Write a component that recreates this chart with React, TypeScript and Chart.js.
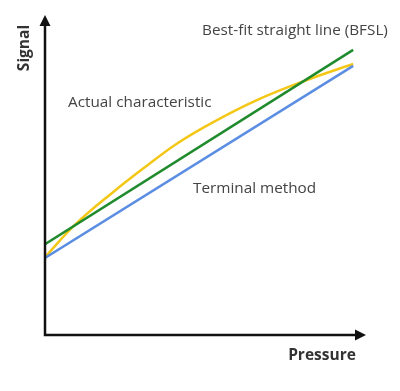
import React, { useEffect, useRef } from "react";
import { Chart, registerables } from "chart.js";

Chart.register(...registerables);

// Pressure positions (0..100) and signal values (0..100)
const lineX = [0, 96];
const bfslY = [28.4, 89.1];
const terminalY = [24.1, 84.1];
const actualX = [0, 9.3, 20.9, 31.2, 41.4, 52, 66, 81.6, 96];
const actualY = [24.3, 34.4, 44.4, 52.5, 60, 66.3, 73.4, 79.7, 84.7];

const xTitle = "Pressure";
const yTitle = "Signal";
const labelBFSL = "Best-fit straight line (BFSL)";
const labelActual = "Actual characteristic";
const labelTerminal = "Terminal method";

const toPts = (xs: number[], ys: number[]) => xs.map((x, i) => ({ x, y: ys[i] }));

const decor = {
  id: "decor",
  afterDraw(chart: any) {
    const ctx = chart.ctx;
    const xs = chart.scales.x;
    const ys = chart.scales.y;
    const x0 = xs.getPixelForValue(0);
    const y0 = ys.getPixelForValue(0);
    const xEnd = xs.getPixelForValue(100);
    const yEnd = ys.getPixelForValue(100);
    ctx.save();
    ctx.strokeStyle = "#111";
    ctx.fillStyle = "#111";
    ctx.lineWidth = 2.5;
    ctx.beginPath();
    ctx.moveTo(x0, yEnd + 8);
    ctx.lineTo(x0, y0);
    ctx.lineTo(xEnd - 8, y0);
    ctx.stroke();
    // arrowheads
    ctx.beginPath();
    ctx.moveTo(x0, yEnd);
    ctx.lineTo(x0 - 5.5, yEnd + 11);
    ctx.lineTo(x0 + 5.5, yEnd + 11);
    ctx.closePath();
    ctx.fill();
    ctx.beginPath();
    ctx.moveTo(xEnd, y0);
    ctx.lineTo(xEnd - 11, y0 - 5.5);
    ctx.lineTo(xEnd - 11, y0 + 5.5);
    ctx.closePath();
    ctx.fill();

    ctx.fillStyle = "#333";
    ctx.textBaseline = "middle";
    ctx.font = "bold 15.5px 'Open Sans'";
    ctx.textAlign = "center";
    ctx.fillText(xTitle, 322, 356);
    ctx.save();
    ctx.translate(25, 48);
    ctx.rotate(-Math.PI / 2);
    ctx.fillText(yTitle, 0, 0);
    ctx.restore();

    ctx.fillStyle = "#444";
    ctx.font = "15.3px 'Open Sans'";
    ctx.textAlign = "left";
    ctx.fillText(labelBFSL, 202, 31);
    ctx.fillText(labelActual, 68, 103);
    ctx.fillText(labelTerminal, 193, 189);
    ctx.restore();
  },
};

export default function App() {
  const ref = useRef<HTMLCanvasElement>(null);
  useEffect(() => {
    document.body.style.margin = "0";
    const chart = new Chart(ref.current!, {
      type: "scatter",
      data: {
        datasets: [
          {
            data: toPts(lineX, terminalY),
            showLine: true,
            borderColor: "#5B8EE3",
            borderWidth: 2.5,
            pointRadius: 0,
          },
          {
            data: toPts(lineX, bfslY),
            showLine: true,
            borderColor: "#1F8B2C",
            borderWidth: 2.5,
            pointRadius: 0,
          },
          {
            data: toPts(actualX, actualY),
            showLine: true,
            borderColor: "#F4C716",
            borderWidth: 2.5,
            pointRadius: 0,
            tension: 0.4,
          },
        ],
      },
      options: {
        animation: false,
        responsive: false,
        layout: { padding: { left: 45, right: 34, top: 15, bottom: 56 } },
        plugins: { legend: { display: false }, tooltip: { enabled: false } },
        scales: {
          x: { type: "linear", min: 0, max: 100, display: false },
          y: { type: "linear", min: 0, max: 100, display: false },
        },
      },
      plugins: [decor],
    });
    return () => chart.destroy();
  }, []);
  return <canvas ref={ref} width={400} height={391} style={{ display: "block" }} />;
}
